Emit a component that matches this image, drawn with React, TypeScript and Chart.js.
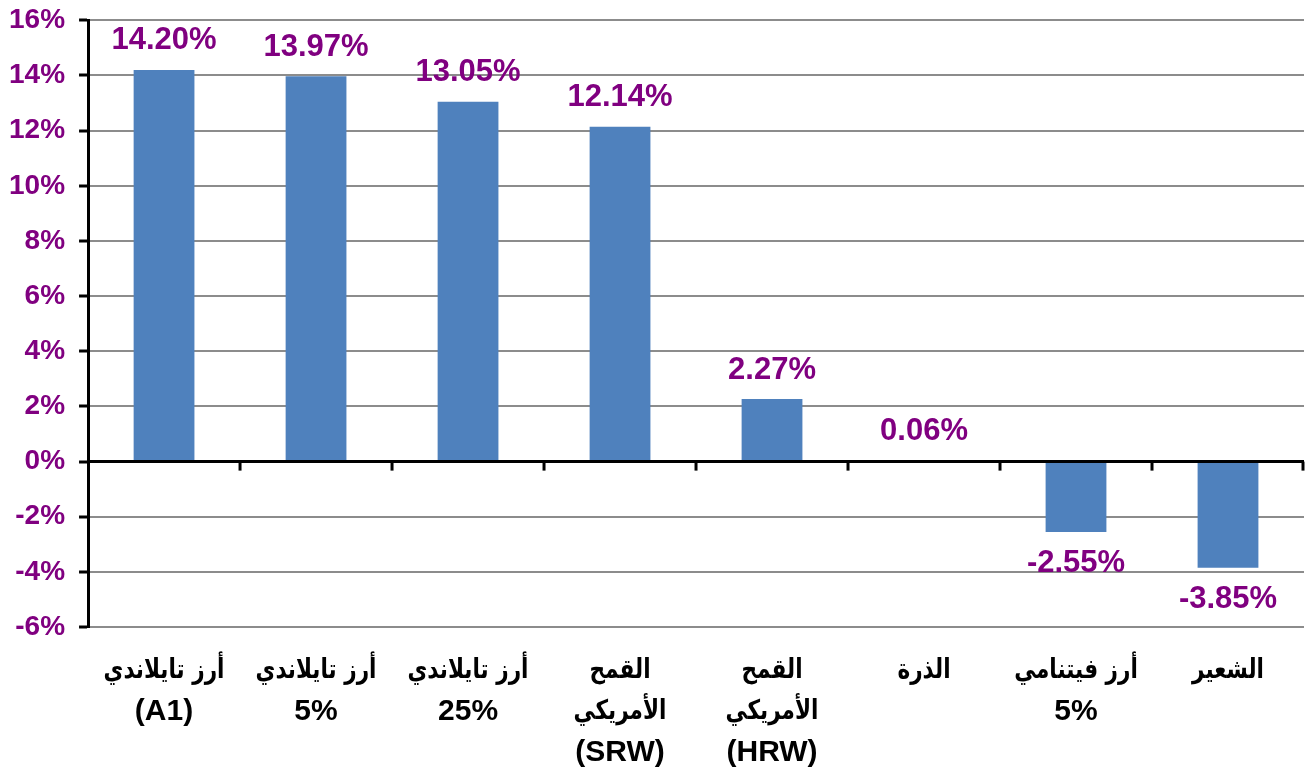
import React, { useEffect, useRef } from "react";
import { Chart, registerables } from "chart.js";

Chart.register(...registerables);

const categories: string[][] = [
  ["أرز تايلاندي", "(A1)"],
  ["أرز تايلاندي", "5%"],
  ["أرز تايلاندي", "25%"],
  ["القمح", "الأمريكي", "(SRW)"],
  ["القمح", "الأمريكي", "(HRW)"],
  ["الذرة"],
  ["أرز فيتنامي", "5%"],
  ["الشعير"],
];
const values: number[] = [14.2, 13.97, 13.05, 12.14, 2.27, 0.06, -2.55, -3.85];
const yMin = -6;
const yMax = 16;
const yStep = 2;

const PURPLE = "#800080";
const BAR = "#4F81BD";
const FONT = "'Liberation Sans', Arial, 'DejaVu Sans', sans-serif";
const AR_FONT = "'DejaVu Sans', sans-serif";

const labelsPlugin = {
  id: "valueLabels",
  afterDatasetsDraw(chart: any) {
    const ctx = chart.ctx;
    const meta = chart.getDatasetMeta(0);
    const xScale = chart.scales.x;
    const yScale = chart.scales.y;
    const zeroY = yScale.getPixelForValue(0);
    ctx.save();
    ctx.strokeStyle = "#000";
    ctx.lineWidth = 3;
    ctx.beginPath();
    ctx.moveTo(chart.chartArea.left, zeroY);
    ctx.lineTo(chart.chartArea.right, zeroY);
    ctx.stroke();
    const n = categories.length;
    for (let i = 1; i <= n; i++) {
      const x =
        i < n
          ? (xScale.getPixelForValue(i - 1) + xScale.getPixelForValue(i)) / 2
          : chart.chartArea.right - 1;
      ctx.beginPath();
      ctx.moveTo(x, zeroY);
      ctx.lineTo(x, zeroY + 9);
      ctx.stroke();
    }
    ctx.fillStyle = PURPLE;
    ctx.font = `bold 31px ${FONT}`;
    ctx.textAlign = "center";
    ctx.textBaseline = "middle";
    meta.data.forEach((bar: any, i: number) => {
      const v = values[i];
      const y = v >= 0 ? bar.y - 29 : bar.y + 32;
      ctx.fillText(v.toFixed(2) + "%", bar.x, y);
    });
    ctx.restore();
  },
  afterDraw(chart: any) {
    const ctx = chart.ctx;
    const xScale = chart.scales.x;
    const bottom = chart.chartArea.bottom;
    ctx.save();
    ctx.fillStyle = "#000";
    ctx.textAlign = "center";
    ctx.textBaseline = "middle";
    categories.forEach((lines, i) => {
      const cx = xScale.getPixelForValue(i);
      lines.forEach((line, j) => {
        const y = bottom + 44 + j * 41;
        const isAr = /[\u0600-\u06FF]/.test(line);
        ctx.save();
        ctx.translate(cx, y);
        if (isAr) {
          ctx.font = `bold 27px ${AR_FONT}`;
          ctx.scale(0.8, 1);
          ctx.fillText(line, 0, 0);
        } else {
          ctx.font = `bold 30px ${FONT}`;
          ctx.fillText(line, 0, 0);
        }
        ctx.restore();
      });
    });
    ctx.restore();
  },
};

export default function App() {
  const ref = useRef<HTMLCanvasElement>(null);
  useEffect(() => {
    document.body.style.margin = "0";
    const chart = new Chart(ref.current!, {
      type: "bar",
      data: {
        labels: categories,
        datasets: [
          {
            data: values,
            backgroundColor: BAR,
            barPercentage: 0.4,
            categoryPercentage: 1,
          },
        ],
      },
      options: {
        animation: false,
        responsive: false,
        maintainAspectRatio: false,
        layout: { padding: { left: -5, right: 2, top: 2, bottom: -18 } },
        plugins: {
          legend: { display: false },
          tooltip: { enabled: false },
          title: { display: false },
        },
        scales: {
          x: {
            grid: { display: false },
            border: { display: false },
            ticks: {
              color: "rgba(0,0,0,0)",
              font: { family: FONT, size: 26, weight: "bold", lineHeight: 1.55 },
              padding: 18,
              maxRotation: 0,
              autoSkip: false,
            },
          },
          y: {
            min: yMin,
            max: yMax,
            border: { display: true, color: "#000", width: 3 },
            grid: {
              color: "#8c8c8c",
              lineWidth: 2,
              tickColor: "#000",
              tickWidth: 3,
              tickLength: 9,
              drawTicks: true,
            },
            ticks: {
              stepSize: yStep,
              color: PURPLE,
              font: { family: FONT, size: 28, weight: "bold", lineHeight: 0.45 },
              padding: 14,
              callback: (v: any) => v + "%",
            },
          },
        },
      },
      plugins: [labelsPlugin],
    });
    return () => chart.destroy();
  }, []);
  return (
    <div style={{ width: 1306, height: 774, position: "relative" }}>
      <canvas ref={ref} width={1306} height={774} style={{ display: "block" }} />
    </div>
  );
}
